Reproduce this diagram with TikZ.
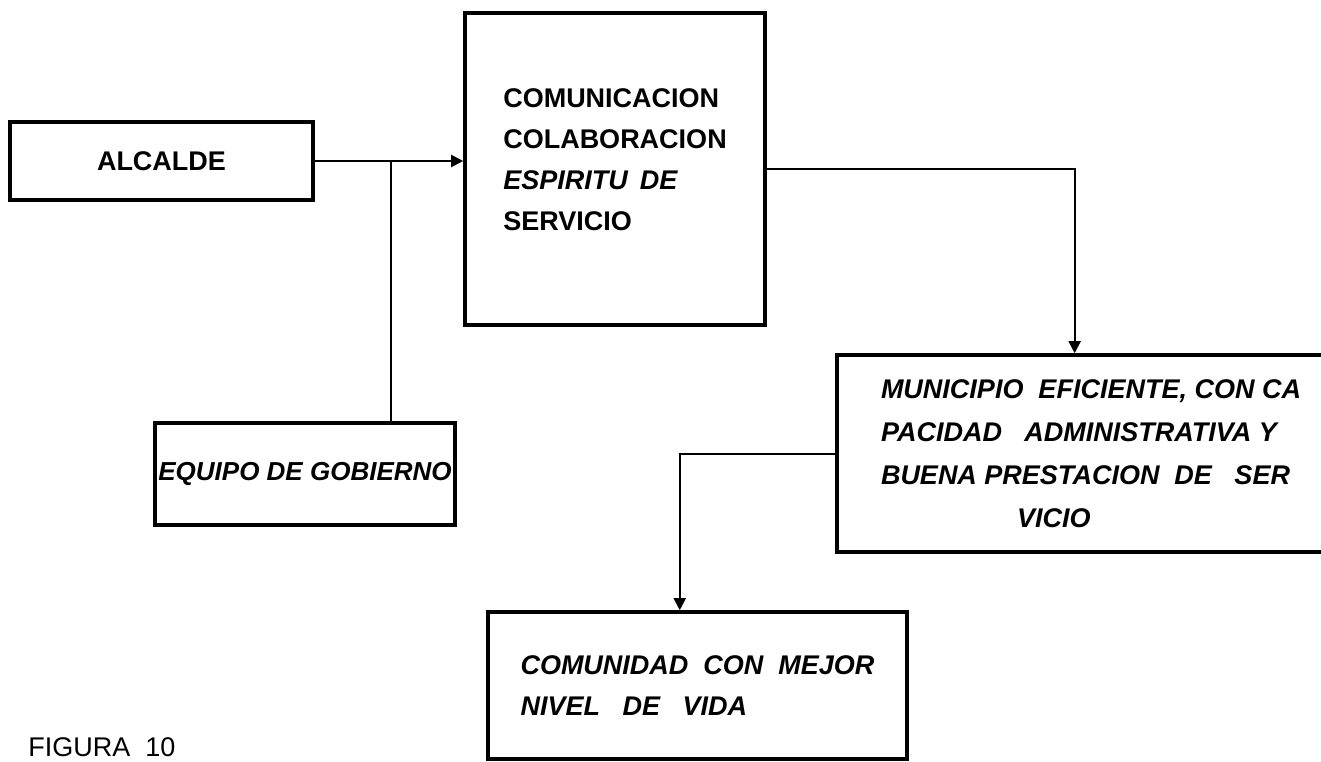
\documentclass[tikz,border=0pt]{standalone}
\usepackage{fontspec}
\setmainfont{Liberation Sans}
\usetikzlibrary{arrows.meta,calc}

\tikzset{
  caja/.style={draw, line width=1.8pt, align=left, inner sep=0pt,
    font=\fontsize{13.5}{20.5}\selectfont\bfseries},
  cajait/.style={caja, font=\fontsize{13.5}{20.5}\selectfont\bfseries\itshape},
  enlace/.style={line width=1pt},
  flecha/.style={enlace, -{Triangle[length=6pt,width=6pt]}}
}

\begin{document}
\begin{tikzpicture}[x=0.5pt,y=-0.5pt]
  \clip (0,0) rectangle (1321,761);
  \useasboundingbox (0,0) rectangle (1321,761);

  % --- Boxes ---
  \node[caja, minimum width=151.5pt, minimum height=39pt] (alcalde) at (161.5,161) {ALCALDE};
  \node[caja, minimum width=150pt, minimum height=156pt] (comunicacion) at (615,169)
    {COMUNICACION\\COLABORACION\\\textit{ESPIRITU\ \,DE}\\SERVICIO\\[-17pt]\strut};
  \node[cajait, minimum width=150pt, minimum height=51pt,
    font=\fontsize{13}{20}\selectfont\bfseries\itshape] (equipo) at (305,474) {EQUIPO DE GOBIERNO};
  \node[cajait, minimum width=254pt, minimum height=98.5pt,
    font=\fontsize{13.5}{21.5}\selectfont\bfseries\itshape] (municipio) at (1091,453.5)
    {MUNICIPIO\ \ EFICIENTE, CON CA\\PACIDAD\ \ \ ADMINISTRATIVA Y\\BUENA PRESTACION\ \ DE\ \ \ SER\\\hspace*{68pt}VICIO};
  \node[cajait, minimum width=209.5pt, minimum height=73.5pt] (comunidad) at (697.5,685.5)
    {COMUNIDAD\ \ CON\ \ MEJOR\\NIVEL\ \ \ DE\ \ \ VIDA};

  % Figure caption
  \node[anchor=base west, inner sep=0pt, font=\fontsize{13.5}{16}\selectfont] (figura) at (28,756) {FIGURA\ \ 10};

  % --- Connectors ---
  \path (alcalde.east) -- ++(76,0) coordinate (union);
  \coordinate (llegadaM) at ($(municipio.north west)!0.468!(municipio.north east)$);
  \coordinate (llegadaC) at ($(comunidad.north west)!0.458!(comunidad.north east)$);

  \draw[flecha] (alcalde.east) -- (alcalde.east -| comunicacion.west);
  \draw[enlace] (union) -- (union |- equipo.north);
  \draw[flecha] (comunicacion.east) -| (llegadaM);
  \draw[flecha] (municipio.west) -| (llegadaC);
\end{tikzpicture}
\end{document}
